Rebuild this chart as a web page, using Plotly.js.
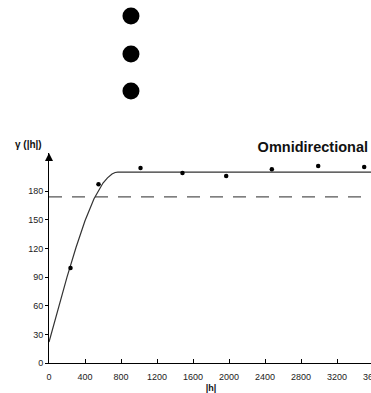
<!DOCTYPE html>
<html>
<head>
<meta charset="utf-8">
<script src="https://cdn.plot.ly/plotly-3.0.1.min.js"></script>
<style>
  html, body { margin: 0; padding: 0; overflow: hidden; background: #fff; }
  #chart { width: 400px; height: 393px; }
</style>
</head>
<body>
<div id="chart"></div>
<script>
// Experimental semivariogram (lag distance |h| vs. semivariance)
const lagDistance = [239, 550, 1017, 1483, 1969, 2476, 2991, 3502];
const semivariance = [99.4, 187.3, 204.4, 199.1, 196, 203, 206.5, 205.4];

// Fitted model curve (spherical shape, nugget ~22, sill 200, range ~765)
const modelLag = [0, 100, 200, 300, 400, 500, 550, 600, 650, 700, 735, 765, 3600];
const modelGamma = [22, 57, 90, 121, 149, 172, 181, 188.5, 194, 198, 199.6, 200, 200];

// Sample variance reference line
const varianceLag = [0, 3600];
const varianceLevel = [174, 174];

// Axis ticks
const xTicks = [0, 400, 800, 1200, 1600, 2000, 2400, 2800, 3200, 3600];
const yTicks = [0, 30, 60, 90, 120, 150, 180];
const yAxisTop = 220;

// Vertical ellipsis above the panel
const ellipsisX = [0.253, 0.253, 0.253];
const ellipsisY = [0.89, 0.628, 0.373];

const tickFont = { family: 'Liberation Sans, Arial, sans-serif', size: 9, color: '#222' };

const traces = [
  {
    x: varianceLag, y: varianceLevel, mode: 'lines', hoverinfo: 'skip',
    line: { color: '#555', width: 1.3, dash: '13px,10px' }
  },
  {
    x: modelLag, y: modelGamma, mode: 'lines',
    line: { color: '#333', width: 1.2 }
  },
  {
    x: lagDistance, y: semivariance, mode: 'markers',
    marker: { color: '#000', size: 4.5 }
  },
  {
    // arrowhead capping the vertical axis
    x: [0], y: [yAxisTop], mode: 'markers', cliponaxis: false, hoverinfo: 'skip',
    marker: { symbol: 'arrow-up', color: '#000', size: 8, line: { width: 0 } }
  },
  {
    x: ellipsisX, y: ellipsisY, mode: 'markers', xaxis: 'x2', yaxis: 'y2',
    marker: { color: '#000', size: 17 }
  }
];

const layout = {
  width: 400, height: 393,
  margin: { l: 49, r: 27, t: 0, b: 30 },
  paper_bgcolor: '#fff', plot_bgcolor: 'rgba(0,0,0,0)',
  showlegend: false,
  title: {
    text: '<b>Omnidirectional</b>',
    font: { family: 'Liberation Sans, Arial, sans-serif', size: 14.5, color: '#111' },
    xref: 'container', yref: 'container',
    x: 368 / 400, xanchor: 'right',
    y: 1 - 147 / 393, yanchor: 'middle'
  },
  xaxis: {
    range: [0, 3600], domain: [0, 1],
    tickvals: xTicks, ticktext: xTicks.map(String),
    ticks: 'inside', ticklen: 4, tickcolor: '#000', tickwidth: 1,
    ticklabelstandoff: 5,
    showline: true, linecolor: '#000', linewidth: 1,
    showgrid: false, zeroline: false,
    tickfont: tickFont,
    title: { text: '<b>|h|</b>', font: { family: 'Liberation Sans, Arial, sans-serif', size: 9, color: '#111' }, standoff: 5 }
  },
  yaxis: {
    range: [0, yAxisTop], domain: [0, 0.5785],
    tickvals: yTicks, ticktext: yTicks.map(String),
    ticks: 'outside', ticklen: 3, tickcolor: '#000', tickwidth: 1,
    showline: true, linecolor: '#000', linewidth: 1,
    showgrid: false, zeroline: false,
    tickfont: tickFont
  },
  xaxis2: { domain: [0, 1], range: [0, 1], visible: false, anchor: 'y2', fixedrange: true },
  yaxis2: { domain: [0.6, 1], range: [0, 1], visible: false, anchor: 'x2', fixedrange: true },
  annotations: [
    {
      text: '<b>γ (|h|)</b>', xref: 'x', yref: 'y', x: 0, y: yAxisTop,
      xanchor: 'right', yanchor: 'bottom', xshift: -5, yshift: 1,
      showarrow: false,
      font: { family: 'Liberation Sans, Arial, sans-serif', size: 10, color: '#111' }
    }
  ]
};

Plotly.newPlot('chart', traces, layout, { staticPlot: true, displayModeBar: false });
</script>
</body>
</html>
